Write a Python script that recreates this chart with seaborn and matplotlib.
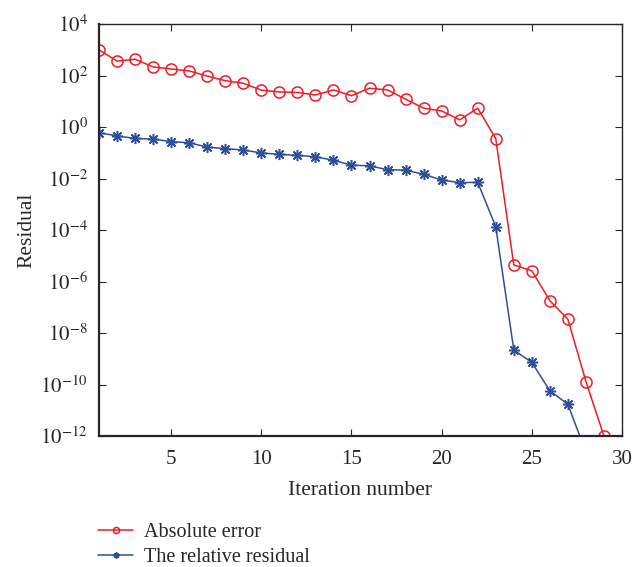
import numpy as np
import pandas as pd
import matplotlib
matplotlib.use("Agg")
import matplotlib.pyplot as plt
import seaborn as sns

iterations = list(range(1, 30))
absolute_error = [1000, 360, 430, 215, 180, 150, 95, 63, 50, 27,
                  23, 22, 17.5, 27.5, 16.5, 32, 27.5, 12, 5.4, 4.2,
                  1.9, 5.4, 0.35, 4.4e-6, 2.6e-6, 1.8e-7, 3.4e-8, 1.3e-10, 1e-12]
relative_residual = [0.6, 0.45, 0.36, 0.34, 0.27, 0.245, 0.166, 0.144, 0.128, 0.098,
                     0.087, 0.079, 0.07, 0.051, 0.033, 0.031, 0.022, 0.021, 0.0146, 0.0087,
                     0.0069, 0.0071, 1.35e-4, 2.2e-9, 7.2e-10, 5.7e-11, 1.7e-11, 2.3e-13]
rel_iters = iterations[:len(relative_residual)]

xticks = [5, 10, 15, 20, 25, 30]
yticks = [1e4, 1e2, 1e0, 1e-2, 1e-4, 1e-6, 1e-8, 1e-10, 1e-12]

sns.set_style("ticks", {"xtick.direction": "in", "ytick.direction": "in"})
plt.rcParams["font.family"] = ["Liberation Serif", "DejaVu Serif"]
plt.rcParams["mathtext.fontset"] = "stix"

fig = plt.figure(figsize=(6.35, 5.67), dpi=100)
ax = fig.add_axes([99/635, 1-436/567, (622-99)/635, (436-24)/567])

red = "#ee1c25"
blue = "#2e4f9e"

df_abs = pd.DataFrame({"it": iterations, "val": absolute_error})
df_rel = pd.DataFrame({"it": rel_iters, "val": relative_residual})

sns.lineplot(data=df_abs, x="it", y="val", ax=ax, color=red, marker="o",
             markersize=8, markerfacecolor="none", markeredgecolor=red,
             markeredgewidth=1.1, linewidth=1.1, label="Absolute error", clip_on=True)
sns.lineplot(data=df_rel, x="it", y="val", ax=ax, color=blue, marker=(8, 2, 0),
             markersize=8, markeredgecolor=blue, markeredgewidth=1.1,
             linewidth=1.1, label="The relative residual")

ax.set_yscale("log")
ax.set_xlim(1, 30)
ax.set_ylim(1e-12, 1e4)
ax.set_xticks(xticks)
ax.set_xticklabels([str(t) for t in xticks])
ax.set_yticks(yticks)
ax.set_yticklabels([r"$10^{%d}$" % int(np.log10(t)) for t in yticks])
ax.minorticks_off()
ax.tick_params(axis="both", which="both", top=True, right=True, direction="in",
               labelsize=15, length=5, width=0.8)
ax.tick_params(axis="x", pad=10)
ax.tick_params(axis="y", pad=8)
for s in ax.spines.values():
    s.set_visible(True)
    s.set_linewidth(1.0)
ax.spines["left"].set_linewidth(1.6)
ax.spines["bottom"].set_linewidth(1.6)
ax.set_xlabel("Iteration number", fontsize=15.5, labelpad=9)
ax.set_ylabel("Residual", fontsize=15.5, labelpad=3)

handles, labels = ax.get_legend_handles_labels()
ax.get_legend().remove()
fig.legend(handles, labels, loc="upper left", bbox_to_anchor=(98/635, 1-523/567),
           frameon=False, fontsize=14.5, handlelength=1.75, handletextpad=0.55,
           labelspacing=0.3, markerscale=0.55, borderaxespad=0, borderpad=0)

fig.savefig("out.png", dpi=100)
